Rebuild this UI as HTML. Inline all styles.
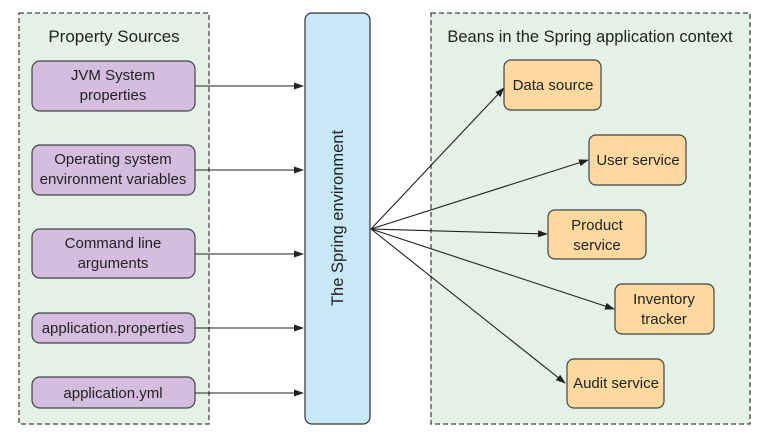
<!DOCTYPE html>
<html><head><style>
body{margin:0;width:770px;height:435px;background:#fff;overflow:hidden}
svg text{font-family:"Liberation Sans",sans-serif;fill:#222}
</style></head><body>
<svg width="770" height="435" viewBox="0 0 770 435">
<defs><marker id="a" markerWidth="10" markerHeight="8" refX="9" refY="4" orient="auto" markerUnits="userSpaceOnUse"><path d="M0,0.5 L10,4 L0,7.5z" fill="#222"/></marker></defs>
<rect x="19" y="13" width="190" height="411" fill="#e3f1e6" stroke="#444" stroke-width="1.3" stroke-dasharray="5,3"/>
<rect x="431" y="13" width="319" height="411" fill="#e3f1e6" stroke="#444" stroke-width="1.3" stroke-dasharray="5,3"/>
<text x="114" y="42" font-size="17" text-anchor="middle">Property Sources</text>
<text x="590" y="42" font-size="16.5" text-anchor="middle">Beans in the Spring application context</text>
<rect x="305" y="13" width="65" height="411" rx="7" fill="#c9e8f7" stroke="#333" stroke-width="1.2"/>
<text transform="translate(343,218) rotate(-90)" font-size="16.5" text-anchor="middle">The Spring environment</text>
<g fill="#d4bddf" stroke="#444" stroke-width="1.2">
<rect x="32" y="61" width="163" height="50" rx="8"/>
<rect x="32" y="145" width="163" height="50" rx="8"/>
<rect x="32" y="229" width="163" height="49" rx="8"/>
<rect x="32" y="313" width="163" height="30" rx="8"/>
<rect x="32" y="377" width="163" height="31" rx="8"/>
</g>
<g font-size="15" text-anchor="middle">
<text x="113" y="80">JVM System</text><text x="113" y="100">properties</text>
<text x="113" y="164">Operating system</text><text x="113" y="184">environment variables</text>
<text x="113" y="248">Command line</text><text x="113" y="268">arguments</text>
<text x="113" y="333">application.properties</text>
<text x="113" y="398">application.yml</text>
</g>
<g stroke="#222" stroke-width="1.1" marker-end="url(#a)">
<line x1="195" y1="86" x2="303" y2="86"/>
<line x1="195" y1="170" x2="303" y2="170"/>
<line x1="195" y1="254" x2="303" y2="254"/>
<line x1="195" y1="328" x2="303" y2="328"/>
<line x1="195" y1="393" x2="303" y2="393"/>
<line x1="371" y1="229" x2="504" y2="88"/>
<line x1="371" y1="229" x2="588" y2="160"/>
<line x1="371" y1="229" x2="547" y2="234"/>
<line x1="371" y1="229" x2="614" y2="309"/>
<line x1="371" y1="229" x2="565" y2="383"/>
</g>
<g fill="#fdd9a0" stroke="#444" stroke-width="1.2">
<rect x="504" y="60" width="97" height="50" rx="7"/>
<rect x="589" y="135" width="97" height="50" rx="7"/>
<rect x="548" y="210" width="98" height="49" rx="7"/>
<rect x="615" y="284" width="99" height="50" rx="7"/>
<rect x="567" y="359" width="97" height="49" rx="7"/>
</g>
<g font-size="15" text-anchor="middle">
<text x="553" y="90">Data source</text>
<text x="638" y="165">User service</text>
<text x="597" y="230">Product</text><text x="597" y="250">service</text>
<text x="664" y="304">Inventory</text><text x="664" y="324">tracker</text>
<text x="616" y="388">Audit service</text>
</g>
</svg>
</body></html>
